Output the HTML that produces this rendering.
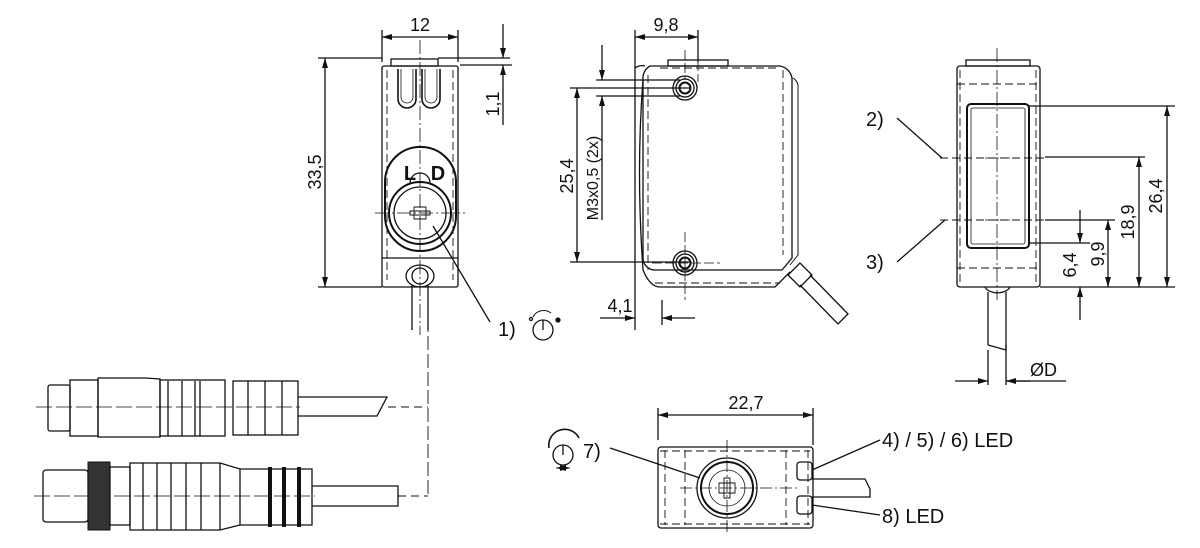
<!DOCTYPE html>
<html><head><meta charset="utf-8"><style>
html,body{margin:0;padding:0;background:#fff;width:1200px;height:548px;overflow:hidden}
svg{display:block}
text{font-family:"Liberation Sans",sans-serif;fill:#111}
</style></head><body>
<svg width="1200" height="548" viewBox="0 0 1200 548" xmlns="http://www.w3.org/2000/svg">
<defs>
<marker id="a" viewBox="0 0 10 6" refX="10" refY="3" markerWidth="12" markerHeight="6" orient="auto-start-reverse" markerUnits="userSpaceOnUse"><path d="M0,0 L10,3 L0,6z" fill="#111"/></marker>
</defs>
<g stroke="#111" stroke-width="1.3" fill="none">
<!-- FRONT VIEW -->
<rect x="391" y="59" width="47" height="7"/>
<rect x="382" y="66" width="76" height="221" rx="2"/>
<path d="M398,69 v30 a9,9 0 0 0 18,0 v-30 M422,69 v30 a9,9 0 0 0 18,0 v-30" stroke-width="1.6"/>
<path d="M401,69 v28 a6,6 0 0 0 12,0 v-28 M425,69 v28 a6,6 0 0 0 12,0 v-28" stroke-width="0.8"/>
<path d="M387,70 V280 M453,70 V280" stroke-dasharray="8,4" stroke-width="0.9"/>
<rect x="385" y="147" width="71" height="104" rx="35" stroke-width="2"/>
<circle cx="420" cy="213" r="31" stroke-width="2"/>
<circle cx="420" cy="213" r="26"/>
<path d="M410,183 a6,6 0 0 1 20,0" />
<path d="M414,207 h12 v12 h-12z M410,211 h20 v4 h-20z" stroke-width="0.9"/>
<line x1="382" y1="258" x2="458" y2="258"/>
<ellipse cx="420" cy="276" rx="14" ry="11"/>
<ellipse cx="420" cy="276" rx="8" ry="8"/>
<path d="M412,285 V330 M428,285 V330"/>
<path d="M420,40 V335 M375,213 h90" stroke-dasharray="14,3,2,3" stroke-width="0.8"/>
<!-- dims front -->
<path d="M382,30 V62 M458,30 V62"/>
<line x1="382" y1="37" x2="458" y2="37" marker-start="url(#a)" marker-end="url(#a)"/>
<path d="M318,58 H382 M318,287 H382"/>
<line x1="325" y1="58" x2="325" y2="287" marker-start="url(#a)" marker-end="url(#a)"/>
<path d="M438,58 H510 M460,65 H512"/>
<line x1="503" y1="24" x2="503" y2="58" marker-end="url(#a)"/>
<line x1="503" y1="125" x2="503" y2="65" marker-end="url(#a)"/>
<line x1="433" y1="226" x2="490" y2="322"/>
<!-- connectors -->
<path d="M428,300 V496" stroke-dasharray="14,4" stroke-width="0.9"/>
<path d="M388,407 H428 M398,496 H428" stroke-dasharray="8,5" stroke-width="0.9"/>
<path d="M36,407 H300 M34,496 H315" stroke-dasharray="16,4" stroke-width="0.8"/>
<rect x="48" y="385" width="22" height="46" rx="2"/>
<rect x="70" y="380" width="28" height="56"/>
<path d="M98,378 H145 l15,1 V437 H98z"/>
<rect x="160" y="380" width="65" height="56"/>
<path d="M168,381 V436 M182,381 V436 M195,381 V436 M200,381 V436"/>
<rect x="233" y="381" width="65" height="54"/>
<path d="M248,381 V435 M265,381 V435 M282,381 V435"/>
<path d="M298,397 H387 l-10,19 H298"/>
<rect x="43" y="470" width="45" height="52" rx="3"/>
<rect x="88" y="462" width="22" height="68" fill="#333" stroke-width="1"/>
<rect x="110" y="467" width="20" height="58"/>
<path d="M130,463 H220 l20,6 H312 V525 H240 l-20,5 H130z"/>
<path d="M143,463 V530 M157,463 V530 M171,463 V530 M186,463 V530 M201,463 V530 M220,463 V530 M240,469 V525"/>
<path d="M270,467 V527 M284,467 V527 M299,467 V527" stroke-width="4"/>
<path d="M312,486 H398 V506 H312"/>
<!-- SIDE VIEW -->
<rect x="668" y="60" width="60" height="6"/>
<path d="M650,66 H780 a15,15 0 0 1 12,12 V258 l-10,12 H655 a12,12 0 0 1 -12,-12 V80 a14,14 0 0 1 7,-14z"/>
<path d="M793,78 a10,10 0 0 1 5,10 V255 l-8,10" stroke-width="1"/>
<path d="M648,75 V270 M783,70 V255 M660,68 H780 M655,283 H780" stroke-dasharray="8,4" stroke-width="0.9"/>
<path d="M635,68 a12,12 0 0 1 10,-2 M643,80 Q636,170 643,270 Q650,287 660,287 H775 L790,272"/>
<circle cx="685" cy="88" r="12"/><circle cx="685" cy="88" r="9"/><circle cx="685" cy="88" r="5.5" stroke-width="2"/>
<circle cx="685" cy="263" r="12"/><circle cx="685" cy="263" r="9"/><circle cx="685" cy="263" r="5.5" stroke-width="2"/>
<path d="M685,50 V80 M698,48 V82 M685,232 V300 M652,263 H720" stroke-dasharray="10,3" stroke-width="0.8"/>
<path d="M788,275 l12,-12 l12,12 l-12,12z M800,285 L838,324 L848,314 L810,275"/>
<path d="M635,30 V330 M698,30 V62 M662,300 V325"/>
<line x1="635" y1="37" x2="698" y2="37" marker-start="url(#a)" marker-end="url(#a)"/>
<line x1="600" y1="318" x2="635" y2="318" marker-end="url(#a)"/>
<line x1="695" y1="318" x2="662" y2="318" marker-end="url(#a)"/>
<path d="M570,88 H690 M570,262 H690 M596,80 H680 M596,96 H680"/>
<line x1="577" y1="88" x2="577" y2="262" marker-start="url(#a)" marker-end="url(#a)"/>
<line x1="602" y1="45" x2="602" y2="80" marker-end="url(#a)"/>
<line x1="602" y1="220" x2="602" y2="96" marker-end="url(#a)"/>
<!-- RIGHT VIEW -->
<rect x="966" y="60" width="64" height="6"/>
<rect x="957" y="66" width="83" height="221" rx="3"/>
<rect x="967" y="104" width="62" height="144" rx="4" stroke-width="2"/>
<rect x="971" y="108" width="54" height="136" rx="2" stroke-width="0.8"/>
<path d="M957,84 H1040 M940,158 H1045 M940,220 H1045 M957,268 H1040 M960,70 V285 M1036,70 V285" stroke-dasharray="8,4" stroke-width="0.9"/>
<path d="M997,48 V300 M985,158 H1010 M985,220 H1010" stroke-dasharray="14,3,2,3" stroke-width="0.8"/>
<path d="M1029,106 H1175 M1045,157 H1145 M1045,220 H1115 M1029,243 H1090 M1040,287 H1175"/>
<line x1="1167" y1="106" x2="1167" y2="287" marker-start="url(#a)" marker-end="url(#a)"/>
<line x1="1139" y1="157" x2="1139" y2="287" marker-start="url(#a)" marker-end="url(#a)"/>
<line x1="1108" y1="220" x2="1108" y2="287" marker-start="url(#a)" marker-end="url(#a)"/>
<line x1="1080" y1="210" x2="1080" y2="243" marker-end="url(#a)"/>
<line x1="1080" y1="320" x2="1080" y2="287" marker-end="url(#a)"/>
<path d="M985,287 a13,8 0 0 0 25,0"/>
<path d="M988,292 V345 M1006,292 V350 L988,345"/>
<path d="M988,350 V385 M1006,345 V385"/>
<line x1="955" y1="381" x2="988" y2="381" marker-end="url(#a)"/>
<line x1="1066" y1="381" x2="1006" y2="381"/>
<line x1="1030" y1="381" x2="1006" y2="381" marker-end="url(#a)"/>
<path d="M897,118 L942,158 M897,262 L945,220"/>
<!-- BOTTOM VIEW -->
<rect x="658" y="447" width="155" height="81" rx="3"/>
<path d="M665,450 V525 M685,450 V525 M786,450 V525 M808,450 V525 M660,451 H810 M660,524 H810" stroke-dasharray="8,4" stroke-width="0.9"/>
<circle cx="727" cy="488" r="30" stroke-width="1.3"/>
<circle cx="727" cy="488" r="26" stroke-width="2"/>
<circle cx="727" cy="488" r="18" stroke-width="0.8"/>
<path d="M719,483 h16 v10 h-16z M724,478 h6 v20 h-6z" stroke-width="0.9"/>
<path d="M727,440 V535 M680,488 H800" stroke-dasharray="12,3,2,3" stroke-width="0.8"/>
<rect x="797" y="462" width="15" height="18" rx="3"/>
<rect x="797" y="496" width="15" height="18" rx="3"/>
<path d="M812,479 H865 l5,10 v8 H812"/>
<path d="M658,408 V440 M813,408 V445"/>
<line x1="658" y1="415" x2="813" y2="415" marker-start="url(#a)" marker-end="url(#a)"/>
<path d="M610,448 L700,478 M812,470 L880,440 M812,505 L880,515"/>
<!-- icons -->
<circle cx="543" cy="330" r="10"/><path d="M543,320 V330"/>
<path d="M533,317 a12,12 0 0 1 18,-4" stroke-width="1"/>
<circle cx="558" cy="320" r="2" fill="#111"/><circle cx="531" cy="319" r="1.5"/>
<circle cx="563" cy="455" r="10"/><path d="M563,445 V455"/>
<path d="M549,448 a16,16 0 0 1 30,-10" stroke-width="1.6"/>
<line x1="556" y1="468" x2="570" y2="468" marker-start="url(#a)" marker-end="url(#a)" stroke-width="0.8"/>
</g>
<!-- text -->
<text x="420" y="31" font-size="18" text-anchor="middle">12</text>
<text x="666" y="31" font-size="18" text-anchor="middle">9,8</text>
<text x="746" y="409" font-size="18" text-anchor="middle">22,7</text>
<text x="620" y="312" font-size="18" text-anchor="middle">4,1</text>
<text x="1030" y="376" font-size="18">ØD</text>
<text transform="translate(321,172) rotate(-90)" font-size="18" text-anchor="middle">33,5</text>
<text transform="translate(499,104) rotate(-90)" font-size="18" text-anchor="middle">1,1</text>
<text transform="translate(573,176) rotate(-90)" font-size="18" text-anchor="middle">25,4</text>
<text transform="translate(598,178) rotate(-90)" font-size="16" text-anchor="middle">M3x0,5 (2x)</text>
<text transform="translate(1162,196) rotate(-90)" font-size="18" text-anchor="middle">26,4</text>
<text transform="translate(1134,222) rotate(-90)" font-size="18" text-anchor="middle">18,9</text>
<text transform="translate(1104,254) rotate(-90)" font-size="18" text-anchor="middle">9,9</text>
<text transform="translate(1076,265) rotate(-90)" font-size="18" text-anchor="middle">6,4</text>
<text x="410" y="180" font-size="20" font-weight="bold" text-anchor="middle">L</text>
<text x="438" y="180" font-size="20" font-weight="bold" text-anchor="middle">D</text>
<text x="498" y="336" font-size="20">1)</text>
<text x="866" y="126" font-size="20">2)</text>
<text x="866" y="269" font-size="20">3)</text>
<text x="583" y="458" font-size="20">7)</text>
<text x="882" y="447" font-size="20">4) / 5) / 6) LED</text>
<text x="882" y="523" font-size="20">8) LED</text>
</svg>
</body></html>
